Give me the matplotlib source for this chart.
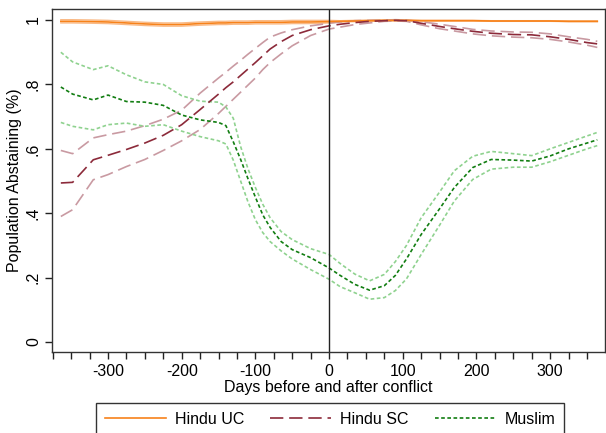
import numpy as np
import matplotlib
matplotlib.use("Agg")
import matplotlib.pyplot as plt
from matplotlib.ticker import MultipleLocator, FixedLocator

plt.rcParams['font.family'] = ['Liberation Sans', 'DejaVu Sans']

# days relative to conflict
days = [-364, -348, -320, -300, -275, -250, -225, -200, -175, -150, -140, -130,
        -120, -110, -100, -90, -80, -65, -50, -25, 0,
        15, 35, 55, 75, 90, 105, 125, 150, 170, 195, 220, 250, 275, 300, 325,
        350, 364]

# Hindu upper caste
uc_mid = [.996, .996, .995, .994, .991, .988, .986, .986, .989, .991, .991, .992,
          .992, .992, .993, .993, .993, .993, .994, .994, .995,
          .996, .997, .998, .999, .999, .999, .998, .998, .998, .998, .997, .997,
          .997, .997, .996, .996, .996]
uc_hi = [1.001, 1.001, 1.0, .999, .996, .993, .991, .991, .994, .996, .996, .997,
         .997, .997, .998, .998, .998, .998, .999, .999, .999,
         .998, .999, 1.0, 1.0, 1.0, 1.0, .999, .999, .999, .999, .998, .998,
         .998, .998, .997, .997, .997]
uc_lo = [.991, .991, .990, .989, .986, .983, .981, .981, .984, .986, .986, .987,
         .987, .987, .988, .988, .988, .988, .989, .989, .991,
         .994, .995, .996, .997, .997, .997, .997, .997, .997, .997, .996, .996,
         .996, .996, .995, .995, .995]

# Hindu scheduled caste
sc_mid = [.494, .496, .566, .58, .598, .618, .642, .675, .722, .77, .79, .808,
          .828, .848, .868, .889, .91, .933, .952, .97, .982,
          .987, .992, .996, .998, .999, .998, .99, .98, .973, .965, .959, .955,
          .954, .948, .94, .93, .926]
sc_hi = [.595, .585, .634, .644, .655, .672, .692, .72, .773, .82, .838, .857,
         .875, .894, .912, .93, .947, .96, .97, .982, .99,
         .994, .998, .999, 1.0, 1.001, 1.0, .995, .987, .98, .971, .966, .963,
         .962, .957, .948, .94, .934]
sc_lo = [.39, .411, .504, .52, .545, .567, .595, .625, .66, .71, .732, .754,
         .776, .798, .82, .846, .868, .895, .92, .952, .972,
         .978, .986, .991, .996, .997, .996, .985, .973, .966, .957, .951, .947,
         .945, .94, .932, .922, .915]

# Muslim
mu_mid = [.792, .77, .752, .767, .747, .745, .735, .705, .69, .682, .672, .622,
          .567, .507, .45, .395, .356, .312, .287, .262, .23,
          .207, .179, .161, .175, .207, .258, .334, .414, .48, .542, .567, .565,
          .562, .578, .6, .618, .628]
mu_hi = [.9, .87, .846, .858, .83, .808, .8, .765, .748, .745, .73, .695,
         .607, .538, .48, .428, .386, .343, .318, .29, .272,
         .244, .211, .19, .21, .25, .3, .386, .466, .532, .577, .592, .585,
         .579, .6, .62, .64, .651]
mu_lo = [.682, .67, .659, .675, .68, .67, .675, .655, .638, .625, .615, .565,
         .5, .435, .38, .34, .312, .283, .258, .225, .195,
         .172, .153, .133, .138, .16, .196, .272, .363, .438, .505, .537, .543,
         .543, .56, .58, .6, .61]

fig = plt.figure(figsize=(6.06, 4.33), dpi=100)
ax = fig.add_axes([0.0858, 0.187, 0.912, 0.792])

orange, orange_ci = '#f7821a', '#f9b985'
maroon, maroon_ci = '#8c2a3a', '#c99aa2'
green, green_ci = '#117d11', '#8fd28f'

sc_dash = (0, (8, 3.5))
mu_dash = (0, (2.2, 1.5))

# confidence bands first, point estimates on top
ax.plot(days, uc_hi, color=orange_ci, lw=1.0)
ax.plot(days, uc_lo, color=orange_ci, lw=1.0)
ax.plot(days, sc_hi, color=maroon_ci, lw=1.2, linestyle=sc_dash)
ax.plot(days, sc_lo, color=maroon_ci, lw=1.2, linestyle=sc_dash)
ax.plot(days, mu_hi, color=green_ci, lw=1.2, linestyle=mu_dash)
ax.plot(days, mu_lo, color=green_ci, lw=1.2, linestyle=mu_dash)

l1, = ax.plot(days, uc_mid, color=orange, lw=1.2, label='Hindu UC')
l2, = ax.plot(days, sc_mid, color=maroon, lw=1.2, linestyle=sc_dash, label='Hindu SC')
l3, = ax.plot(days, mu_mid, color=green, lw=1.2, linestyle=mu_dash, label='Muslim')

ax.axvline(0, color='#222222', lw=1.0)

ax.set_xlim(-376, 374)
ax.set_ylim(-0.031, 1.034)

ax.xaxis.set_major_locator(FixedLocator([-300, -200, -100, 0, 100, 200, 300]))
ax.xaxis.set_minor_locator(MultipleLocator(25))
ax.set_xticklabels(['-300', '-200', '-100', '0', '100', '200', '300'])
ax.set_yticks([0, .2, .4, .6, .8, 1])
ax.set_yticklabels(['0', '.2', '.4', '.6', '.8', '1'], rotation=90, va='center')
ax.tick_params(which='both', direction='out', length=5, width=1, colors='#222222',
               labelsize=11.5, labelcolor='black')
ax.tick_params(axis='y', pad=3)

for s in ax.spines.values():
    s.set_color('#333333')
    s.set_linewidth(1.0)

ax.set_xlabel('Days before and after conflict', fontsize=11.5, labelpad=1)
ax.set_ylabel('Population Abstaining (%)', fontsize=11.5, labelpad=3)

leg = fig.legend(handles=[l1, l2, l3], loc='upper center', ncol=3,
                 bbox_to_anchor=(0.545, 1 - 403 / 433), fontsize=11.5,
                 frameon=True, fancybox=False, edgecolor='black',
                 handlelength=3.8, handletextpad=0.6, columnspacing=1.6,
                 borderpad=0.55, borderaxespad=0)
leg.get_frame().set_linewidth(1.0)

fig.savefig('out.png', dpi=100)
